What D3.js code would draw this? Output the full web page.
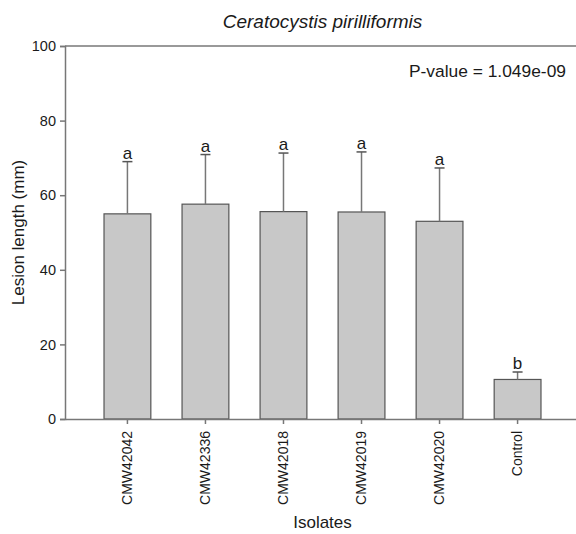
<!DOCTYPE html>
<html>
<head>
<meta charset="utf-8">
<script src="https://cdn.jsdelivr.net/npm/d3@7"></script>
<style>
  body { margin: 0; background: #fff; }
  svg { font-family: "Liberation Sans", Arial, sans-serif; }
</style>
</head>
<body>
<svg id="chart" width="576" height="534"></svg>
<script>
// Data
const isolates = ["CMW42042", "CMW42336", "CMW42018", "CMW42019", "CMW42020", "Control"];
const meanLength = [55.0, 57.6, 55.6, 55.5, 53.0, 10.6];
const errUpper = [69.0, 70.9, 71.3, 71.6, 67.3, 12.6];
const groupLetters = ["a", "a", "a", "a", "a", "b"];
const yTicks = [0, 20, 40, 60, 80, 100];

const svg = d3.select("#chart");
const plot = { left: 65, right: 580, top: 46, bottom: 419 };
const axisColor = "#777";
const textColor = "#1a1a1a";

const x = d3.scaleBand()
  .domain(isolates)
  .range([plot.left, plot.right])
  .paddingInner(0.4)
  .paddingOuter(0.5);

const y = d3.scaleLinear()
  .domain([0, 100])
  .range([plot.bottom, plot.top]);

// Title
svg.append("text")
  .attr("x", (plot.left + plot.right) / 2)
  .attr("y", 28)
  .attr("text-anchor", "middle")
  .attr("font-size", "19px")
  .attr("font-style", "italic")
  .attr("fill", textColor)
  .text("Ceratocystis pirilliformis");

// Top frame line
svg.append("line")
  .attr("x1", plot.left).attr("x2", plot.right)
  .attr("y1", plot.top).attr("y2", plot.top)
  .attr("stroke", axisColor).attr("stroke-width", 1.5);

// Bars
svg.selectAll(".bar")
  .data(isolates)
  .join("rect")
  .attr("class", "bar")
  .attr("x", d => x(d))
  .attr("y", (d, i) => y(meanLength[i]))
  .attr("width", x.bandwidth())
  .attr("height", (d, i) => y(0) - y(meanLength[i]))
  .attr("fill", "#c8c8c8")
  .attr("stroke", "#555")
  .attr("stroke-width", 1.2);

// Error bars (upper only)
const cx = d => x(d) + x.bandwidth() / 2;
svg.selectAll(".err")
  .data(isolates)
  .join("line")
  .attr("class", "err")
  .attr("x1", cx).attr("x2", cx)
  .attr("y1", (d, i) => y(meanLength[i]))
  .attr("y2", (d, i) => y(errUpper[i]))
  .attr("stroke", axisColor).attr("stroke-width", 1.5);

svg.selectAll(".cap")
  .data(isolates)
  .join("line")
  .attr("class", "cap")
  .attr("x1", d => cx(d) - 5).attr("x2", d => cx(d) + 5)
  .attr("y1", (d, i) => y(errUpper[i]))
  .attr("y2", (d, i) => y(errUpper[i]))
  .attr("stroke", "#555").attr("stroke-width", 1.5);

// Significance letters
svg.selectAll(".letter")
  .data(isolates)
  .join("text")
  .attr("class", "letter")
  .attr("x", cx)
  .attr("y", (d, i) => y(errUpper[i]) - 3)
  .attr("text-anchor", "middle")
  .attr("font-size", "17px")
  .attr("fill", textColor)
  .text((d, i) => groupLetters[i]);

// Y axis
svg.append("g")
  .attr("transform", `translate(${plot.left},0)`)
  .call(d3.axisLeft(y).tickValues(yTicks).tickSize(5).tickPadding(4))
  .call(g => g.selectAll("path, line").attr("stroke", axisColor).attr("stroke-width", 1.5))
  .call(g => g.selectAll("text").attr("font-size", "14.5px").attr("fill", textColor)
    .attr("font-family", "Liberation Sans, Arial, sans-serif"));

// X axis
svg.append("g")
  .attr("transform", `translate(0,${plot.bottom})`)
  .call(d3.axisBottom(x).tickSize(5).tickSizeOuter(0))
  .call(g => g.selectAll("path, line").attr("stroke", axisColor).attr("stroke-width", 1.5))
  .call(g => g.selectAll("text")
    .attr("font-size", "14px").attr("fill", textColor)
    .attr("font-family", "Liberation Sans, Arial, sans-serif")
    .attr("transform", "rotate(-90)")
    .attr("text-anchor", "end")
    .attr("x", -12).attr("y", 0).attr("dy", "0.35em"));

// Axis titles
svg.append("text")
  .attr("x", (plot.left + plot.right) / 2)
  .attr("y", 528)
  .attr("text-anchor", "middle")
  .attr("font-size", "17px")
  .attr("fill", textColor)
  .text("Isolates");

svg.append("text")
  .attr("transform", `translate(24,${(plot.top + plot.bottom) / 2}) rotate(-90)`)
  .attr("text-anchor", "middle")
  .attr("font-size", "17px")
  .attr("fill", textColor)
  .text("Lesion length (mm)");

// P-value annotation
svg.append("text")
  .attr("x", 566)
  .attr("y", 77)
  .attr("text-anchor", "end")
  .attr("font-size", "17.4px")
  .attr("fill", textColor)
  .text("P-value = 1.049e-09");
</script>
</body>
</html>
